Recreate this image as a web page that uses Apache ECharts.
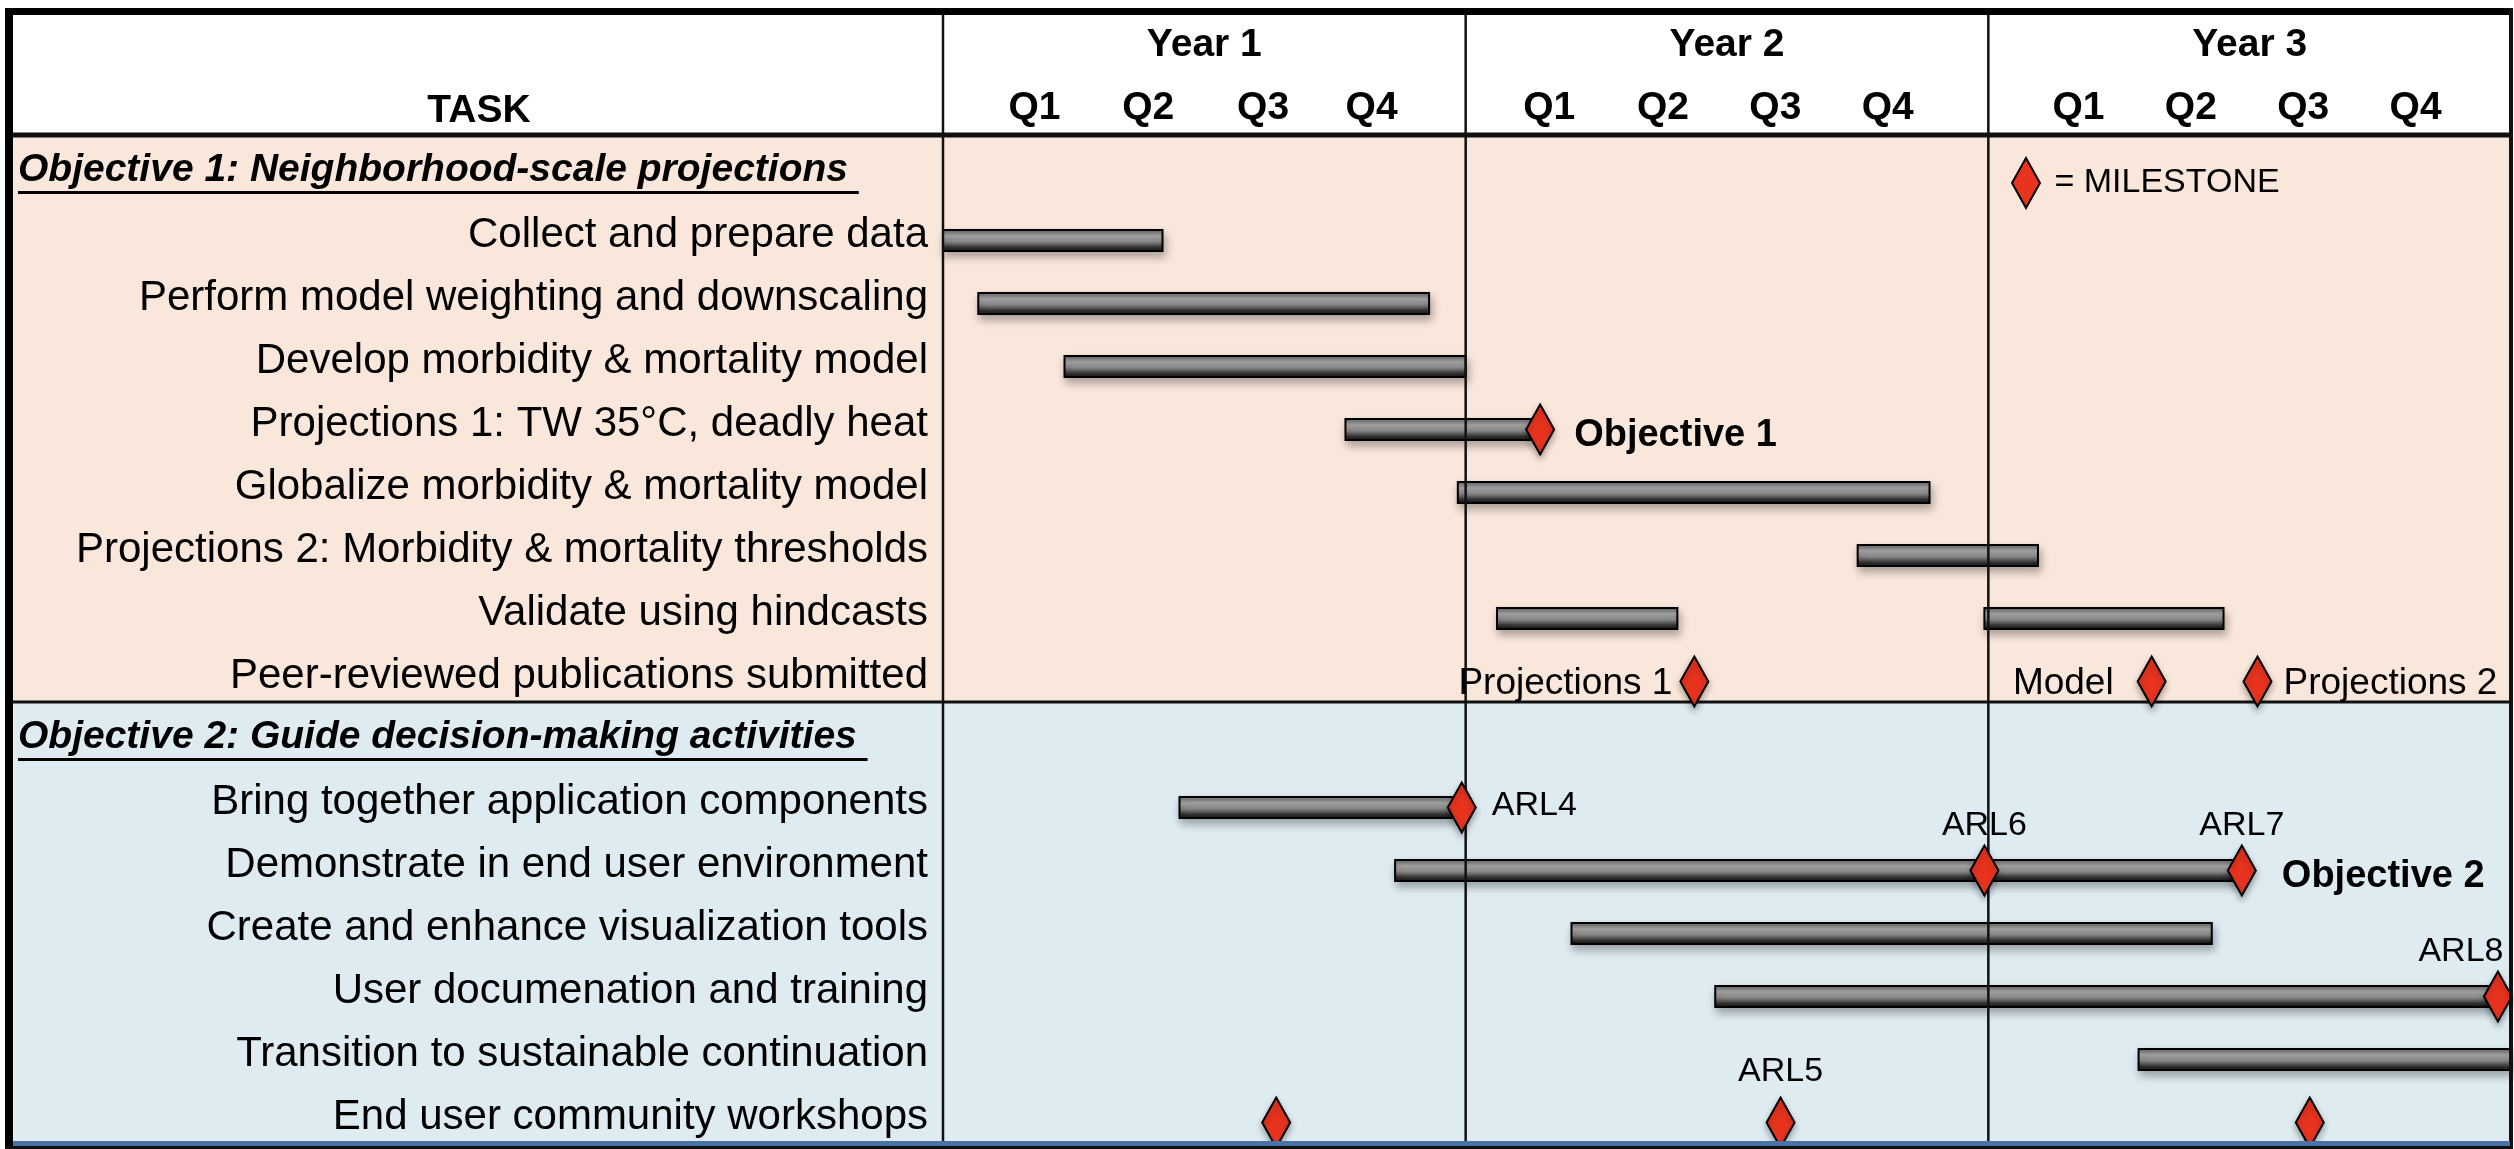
<!DOCTYPE html>
<html>
<head>
<meta charset="utf-8">
<script src="https://cdn.jsdelivr.net/npm/echarts@6/dist/echarts.min.js"></script>
<style>
html, body { margin: 0; padding: 0; background: #fff; }
#main { width: 2514px; height: 1149px; }
</style>
</head>
<body>
<div id="main"></div>
<script>
// table rows, top to bottom (objective headings are rows too)
var rowNames = [
	'Objective 1: Neighborhood-scale projections ',
	'Collect and prepare data',
	'Perform model weighting and downscaling',
	'Develop morbidity & mortality model',
	'Projections 1: TW 35°C, deadly heat',
	'Globalize morbidity & mortality model',
	'Projections 2: Morbidity & mortality thresholds',
	'Validate using hindcasts',
	'Peer-reviewed publications submitted',
	'Objective 2: Guide decision-making activities ',
	'Bring together application components',
	'Demonstrate in end user environment',
	'Create and enhance visualization tools',
	'User documenation and training',
	'Transition to sustainable continuation',
	'End user community workshops'
];
var sectionFirst = [0, 9];
var sectionLast = [8, 15];

// time runs in quarters from the start of Year 1 (0..12)
var years = ['Year 1', 'Year 2', 'Year 3'];
var yearLines = [0, 4, 8];
var quarterLabels = ['Q1', 'Q2', 'Q3', 'Q4', 'Q1', 'Q2', 'Q3', 'Q4', 'Q1', 'Q2', 'Q3', 'Q4'];
var quarterTicks = [0.70, 1.57, 2.45, 3.28, 4.64, 5.51, 6.37, 7.23, 8.69, 9.55, 10.41, 11.27];

// task bars
var barRow   = [1, 2, 3, 4, 5, 6, 7, 7, 10, 11, 12, 13, 14];
var barStart = [0, 0.27, 0.93, 3.08, 3.94, 7.0, 4.24, 7.97, 1.81, 3.46, 4.81, 5.91, 9.15];
var barEnd   = [1.68, 3.72, 4.0, 4.5, 7.55, 8.38, 5.62, 9.8, 3.97, 9.94, 9.71, 11.9, 12.3];

// milestones (diamonds)
var msRow = [4, 8, 8, 8, 10, 11, 11, 13, 15, 15, 15];
var msAt  = [4.57, 5.75, 9.25, 10.06, 3.97, 7.97, 9.94, 11.9, 2.55, 6.41, 10.46];

// notes written next to milestones
var noteOf   = [0, 1, 2, 3, 4, 5, 6, 6, 7, 9];
var noteText = ['Objective 1', 'Projections 1', 'Model', 'Projections 2', 'ARL4', 'ARL6', 'ARL7', 'Objective 2', 'ARL8', 'ARL5'];

// --- styling ---
var noteKind = ['bold', 'left', 'leftFar', 'right', 'arl', 'top', 'top', 'bold2', 'topEdge', 'topHigh'];
var noteStyle = {
	bold:    { dx: 34, dy: 6, align: 'left', va: 'middle', size: 38, bold: true },
	bold2:   { dx: 40, dy: 6, align: 'left', va: 'middle', size: 38, bold: true },
	left:    { dx: -22, dy: 2, align: 'right', va: 'middle', size: 37 },
	leftFar: { dx: -38, dy: 2, align: 'right', va: 'middle', size: 37 },
	right:   { dx: 26, dy: 2, align: 'left', va: 'middle', size: 37 },
	arl:     { dx: 30, dy: -2, align: 'left', va: 'middle', size: 34 },
	top:     { dx: 0, dy: -28, align: 'center', va: 'bottom', size: 34 },
	topEdge: { dx: -37, dy: -28, align: 'center', va: 'bottom', size: 34 },
	topHigh: { dx: 0, dy: -34, align: 'center', va: 'bottom', size: 34 }
};
var sectionColors = ['#FAE7DB', '#DEEBF1'];
var sectionRule = [5, 3];
var sectionShift = -6;   // cell borders sit a little above the text rows
var markDy = 5;          // drawn shapes sit a little below the row text
var FONT = "'Liberation Sans', Arial, sans-serif";
var frameTop = 11, frameBottom = 1143, frameLeft = 13;

var measureCtx = document.createElement('canvas').getContext('2d');
function textWidth(s, font) {
	measureCtx.font = font;
	return measureCtx.measureText(s).width;
}

var chart = echarts.init(document.getElementById('main'));

function renderSection(params, api) {
	var i = params.dataIndex;
	var band = api.size([0, 1])[1];
	var yc = api.coord([0, api.value(0)])[1];
	var y0 = yc - band / 2 + sectionShift;
	var y1 = api.coord([0, api.value(1)])[1] + band / 2 + sectionShift;
	var x1 = params.coordSys.x + params.coordSys.width;
	var head = rowNames[api.value(0)];
	var hy = yc - 2;
	var font = 'italic bold 39px ' + FONT;
	var w = textWidth(head, font);
	return {
		type: 'group',
		children: [
			{ type: 'rect', shape: { x: frameLeft, y: y0, width: x1 - frameLeft, height: y1 - y0 }, style: { fill: sectionColors[i] } },
			{ type: 'line', shape: { x1: frameLeft, y1: y0, x2: x1, y2: y0 }, style: { stroke: '#111', lineWidth: sectionRule[i] } },
			{ type: 'text', x: 18, y: hy, style: { text: head, font: font, fill: '#000', align: 'left', verticalAlign: 'middle' } },
			{ type: 'line', shape: { x1: 18, y1: hy + 22, x2: 18 + w, y2: hy + 22 }, style: { stroke: '#000', lineWidth: 3 } }
		]
	};
}

function renderBar(params, api) {
	var row = api.value(2);
	var a = api.coord([api.value(0), row]);
	var b = api.coord([api.value(1), row]);
	var h = 21;
	var cs = params.coordSys;
	var shape = echarts.graphic.clipRectByRect(
		{ x: a[0], y: a[1] + markDy - h / 2, width: b[0] - a[0], height: h },
		{ x: cs.x, y: cs.y, width: cs.width, height: cs.height }
	);
	return shape && {
		type: 'rect',
		shape: shape,
		style: {
			fill: new echarts.graphic.LinearGradient(0, 0, 0, 1, [
				{ offset: 0, color: '#5a5a5a' },
				{ offset: 0.3, color: '#a8a8a8' },
				{ offset: 0.55, color: '#8a8a8a' },
				{ offset: 0.8, color: '#333' },
				{ offset: 1, color: '#111' }
			]),
			stroke: '#000',
			lineWidth: 2,
			shadowBlur: 8,
			shadowColor: 'rgba(0,0,0,0.3)',
			shadowOffsetX: 2,
			shadowOffsetY: 5
		}
	};
}

function renderDivider(params, api) {
	var x = api.coord([api.value(0), 0])[0];
	return { type: 'line', shape: { x1: x, y1: frameTop, x2: x, y2: frameBottom }, style: { stroke: '#111', lineWidth: 2.5 } };
}

function renderMilestone(params, api) {
	var p = api.coord([api.value(0), api.value(1)]);
	var cx = p[0], cy = p[1] + markDy;
	var w = 28, h = 50;
	var kids = [{
		type: 'polygon',
		shape: { points: [[cx, cy - h / 2], [cx + w / 2, cy], [cx, cy + h / 2], [cx - w / 2, cy]] },
		style: { fill: '#E8341F', stroke: '#000', lineWidth: 2, shadowBlur: 6, shadowColor: 'rgba(0,0,0,0.3)', shadowOffsetY: 4 }
	}];
	for (var k = 0; k < noteOf.length; k++) {
		if (noteOf[k] !== params.dataIndex) continue;
		var s = noteStyle[noteKind[k]];
		kids.push({
			type: 'text',
			x: cx + s.dx,
			y: cy + s.dy,
			style: { text: noteText[k], font: (s.bold ? 'bold ' : '') + s.size + 'px ' + FONT, fill: '#000', align: s.align, verticalAlign: s.va }
		});
	}
	return { type: 'group', children: kids };
}

var sectionData = [];
for (var i = 0; i < sectionFirst.length; i++) sectionData.push([sectionFirst[i], sectionLast[i]]);
var barData = [];
for (var i = 0; i < barRow.length; i++) barData.push([barStart[i], barEnd[i], barRow[i]]);
var msData = [];
for (var i = 0; i < msRow.length; i++) msData.push([msAt[i], msRow[i]]);

var option = {
	animation: false,
	backgroundColor: '#fff',
	title: {
		text: 'TASK',
		left: 474,
		top: 106,
		textAlign: 'center',
		textVerticalAlign: 'middle',
		textStyle: { fontFamily: FONT, fontSize: 39, fontWeight: 'bold', color: '#000' }
	},
	legend: {
		data: [{ name: 'MILESTONE', icon: 'diamond', itemStyle: { color: '#E8341F', borderColor: '#000', borderWidth: 2 } }],
		left: 2011,
		top: 157,
		padding: 0,
		itemWidth: 28,
		itemHeight: 50,
		selectedMode: false,
		formatter: ' = {name}',
		textStyle: { fontFamily: FONT, fontSize: 34, color: '#000' }
	},
	grid: { left: 943, top: 141, right: 3, bottom: 0, outerBoundsMode: 'none' },
	xAxis: [{
		type: 'value', min: 0, max: 12, show: false
	}, {
		type: 'category', data: years, position: 'top', boundaryGap: true,
		axisLine: { show: false }, axisTick: { show: false }, splitLine: { show: false },
		axisLabel: { margin: 96, verticalAlign: 'middle', fontFamily: FONT, fontSize: 39, fontWeight: 'bold', color: '#000' }
	}, {
		type: 'value', min: 0, max: 12, position: 'top',
		axisLine: { show: false }, axisTick: { show: false }, splitLine: { show: false },
		axisLabel: {
			customValues: quarterTicks,
			formatter: function (v) { return quarterLabels[quarterTicks.indexOf(v)]; },
			margin: 33, verticalAlign: 'middle', fontFamily: FONT, fontSize: 39, fontWeight: 'bold', color: '#000'
		}
	}],
	yAxis: {
		type: 'category',
		data: rowNames,
		inverse: true,
		axisLine: { show: false },
		axisTick: { show: false },
		splitLine: { show: false },
		axisLabel: {
			margin: 15,
			fontFamily: FONT,
			fontSize: 42,
			color: '#000',
			formatter: function (v, idx) { return sectionFirst.indexOf(idx) >= 0 ? '' : v; }
		}
	},
	graphic: [
		{ type: 'rect', z: 100, shape: { x: 5, y: 8, width: 2507, height: 7 }, style: { fill: '#000' } },
		{ type: 'rect', z: 100, shape: { x: 5, y: 8, width: 8, height: 1141 }, style: { fill: '#000' } },
		{ type: 'rect', z: 100, shape: { x: 2509, y: 8, width: 4, height: 1140 }, style: { fill: '#111' } },
		{ type: 'rect', z: 100, shape: { x: 13, y: 1141, width: 2497, height: 5 }, style: { fill: '#4B72A6' } },
		{ type: 'rect', z: 100, shape: { x: 5, y: 1146, width: 2508, height: 3 }, style: { fill: '#111' } }
	],
	series: [{
		type: 'custom', name: 'sections', z: 0, silent: true,
		renderItem: renderSection, data: sectionData
	}, {
		type: 'custom', name: 'tasks', z: 2, silent: true,
		renderItem: renderBar, encode: { x: [0, 1], y: 2 }, data: barData
	}, {
		type: 'custom', name: 'years', z: 3, silent: true,
		renderItem: renderDivider, data: yearLines.map(function (v) { return [v]; })
	}, {
		type: 'custom', name: 'MILESTONE', z: 4, silent: true,
		renderItem: renderMilestone, encode: { x: 0, y: 1 }, data: msData
	}]
};

chart.setOption(option);
</script>
</body>
</html>
